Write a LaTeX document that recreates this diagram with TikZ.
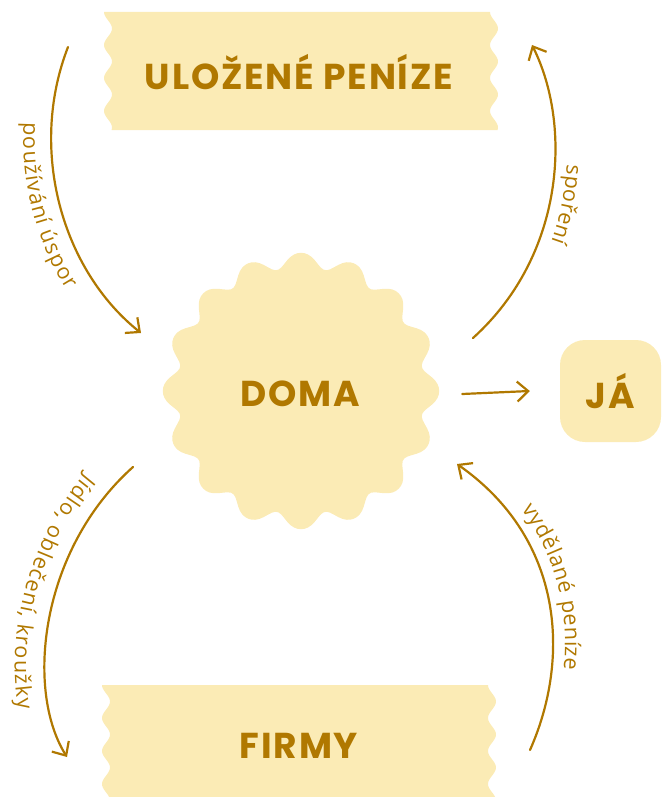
\documentclass[tikz,border=0pt]{standalone}
\usepackage{fontspec}
\setmainfont{Open Sans}
\newfontfamily\headfont{Poppins}[LetterSpace=5]
\usetikzlibrary{arrows.meta,decorations.text}

\definecolor{tapefill}{HTML}{FBEBB5}
\definecolor{gold}{HTML}{B07800}

\newcommand{\labelfont}{\fontsize{21.5}{25}\selectfont}
% strip of tape with wavy ends: left x, top y, right x, bottom y
\newcommand{\tape}[4]{%
  \fill[tapefill] (#1,#2) -- plot[domain=#2:#4, samples=60] ({#3+4-4*cos((\x-#2)/33*360)}, \x)
    -- plot[domain=#4:#2, samples=60] ({#1+4-4*cos((\x-#2)/33*360)}, \x) -- cycle;}

\tikzset{
  flow/.style = {draw=gold, line width=2.2pt, line cap=round, -{Straight Barb[length=11pt, width=20pt]}},
  headtext/.style = {text=gold, inner sep=0pt, font=\headfont\bfseries\fontsize{36}{40}\selectfont},
  curvelabel/.style n args = {3}{decorate, decoration={text along path, text color=gold,
    raise=#1, text align={left indent=#2}, text={|\labelfont|#3}}}
}

\begin{document}
\begin{tikzpicture}[x=1pt, y=-1pt]
        \useasboundingbox (0,0) rectangle (661,797);

        \tape{104}{12}{490}{130}
        \tape{102}{685}{488}{797}
        \fill[tapefill, shift={(301,391)}] plot[domain=0:360, samples=241] (\x:{131.5+7.5*cos(16*\x)-0.8*cos(32*\x)}) -- cycle;

        \node[headtext] (ulozene) at (299,72) {ULOŽENÉ PENÍZE};
        \node[headtext] (firmy) at (299,746) {FIRMY};
        \node[headtext, circle, minimum size=324pt] (doma) at (300,394) {DOMA};
        \node[headtext, fill=tapefill, rounded corners=25pt, minimum width=101pt, minimum height=102pt] (ja) at (610.5,391) {JÁ};

        \coordinate (use-from) at (68,47);
        \coordinate (use-to) at (141,333);
        \coordinate (save-from) at (473,338);
        \coordinate (save-to) at (532,45);
        \coordinate (buy-from) at (133,467);
        \coordinate (buy-to) at (67,757);
        \coordinate (earn-from) at (530,750);
        \coordinate (earn-to) at (457,464);

        \draw[flow] (doma.east) -- ([xshift=-30pt]ja.west);
        \draw[flow] (use-from) .. controls (28,150) and (62,270) .. (use-to);
        \draw[flow] (save-from) .. controls (565,255) and (572,125) .. (save-to);
        \draw[flow] (buy-from) .. controls (40,550) and (25,690) .. (buy-to);
        \draw[flow] (earn-from) .. controls (570,660) and (565,540) .. (earn-to);

        \path[curvelabel={-28pt}{78pt}{používání úspor}] (use-from) .. controls (28,150) and (62,270) .. (use-to);
        \path[curvelabel={12pt}{122pt}{spoření}] (save-to) .. controls (572,125) and (565,255) .. (save-from);
        \path[curvelabel={-30pt}{36pt}{Jídlo, oblečení, kroužky}] (buy-from) .. controls (40,550) and (25,690) .. (buy-to);
        \path[curvelabel={12pt}{76pt}{vydělané peníze}] (earn-to) .. controls (565,540) and (570,660) .. (earn-from);
\end{tikzpicture}
\end{document}
